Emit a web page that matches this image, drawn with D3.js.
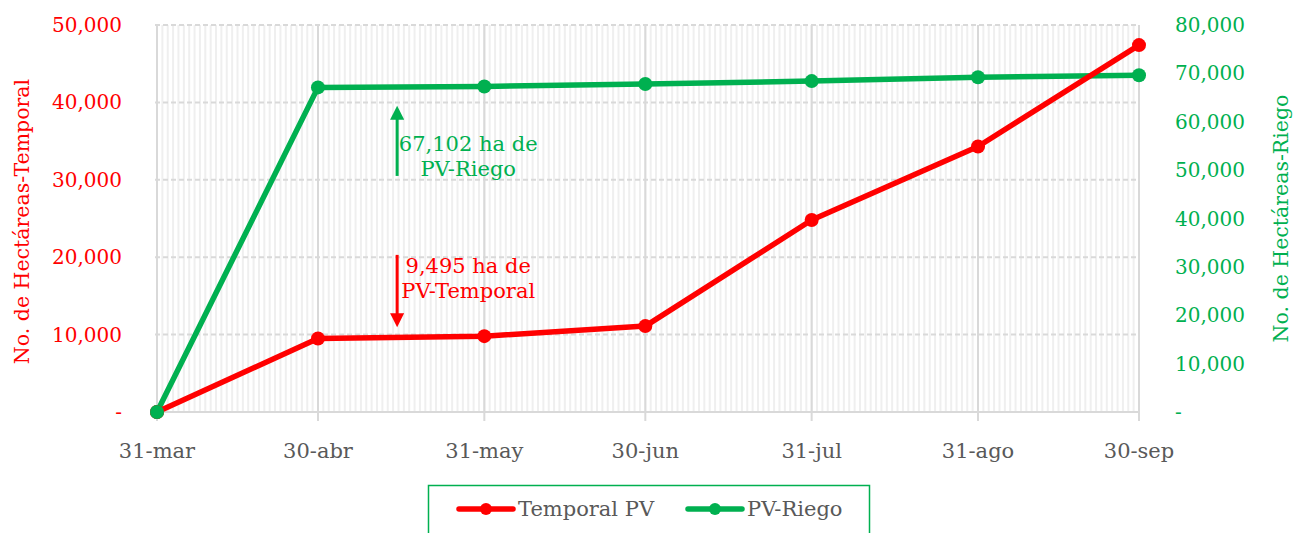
<!DOCTYPE html>
<html><head><meta charset="utf-8">
<script src="https://cdn.jsdelivr.net/npm/d3@7"></script>
<style>body{margin:0;background:#fff}svg{display:block}text{font-family:"DejaVu Serif",serif}</style>
</head><body><svg id="c" width="1293" height="533"></svg>
<script>
const dates = ["2023-03-31","2023-04-30","2023-05-31","2023-06-30","2023-07-31","2023-08-31","2023-09-30"];
const dateLabels = ["31-mar","30-abr","31-may","30-jun","31-jul","31-ago","30-sep"];
const temporalPV = [0, 9495, 9800, 11100, 24800, 34300, 47400];
const pvRiego = [0, 67102, 67300, 67800, 68400, 69200, 69600];
const leftTicks = [0, 10000, 20000, 30000, 40000, 50000];
const rightTicks = [0, 10000, 20000, 30000, 40000, 50000, 60000, 70000, 80000];
const RED = "#FF0000", GREEN = "#00B050", GRAY = "#595959";

const parse = d3.utcParse("%Y-%m-%d");
const dd = dates.map(parse);
const svg = d3.select("#c");
const L = 157, R = 1139, T = 25, B = 412;
const x = d3.scaleUtc().domain([dd[0], dd[dd.length-1]]).range([L, R]);
const yL = d3.scaleLinear().domain([0, 50000]).range([B, T]);
const yR = d3.scaleLinear().domain([0, 80000]).range([B, T]);
const fmt = v => v === 0 ? "-" : d3.format(",")(v);

// minor daily gridlines
const days = d3.utcDay.range(dd[0], d3.utcDay.offset(dd[dd.length-1], 1));
svg.append("g").selectAll("line").data(days).join("line")
  .attr("x1", d => x(d)).attr("x2", d => x(d)).attr("y1", T).attr("y2", B)
  .attr("stroke", "#efefef").attr("stroke-width", 2);
// horizontal dashed gridlines
svg.append("g").selectAll("line").data(leftTicks).join("line")
  .attr("x1", L - 2).attr("x2", R).attr("y1", d => yL(d)).attr("y2", d => yL(d))
  .attr("stroke", "#d9d9d9").attr("stroke-width", 2).attr("stroke-dasharray", d => d === 0 ? null : "5,3");
// major vertical gridlines
svg.append("g").selectAll("line").data(dd).join("line")
  .attr("x1", d => x(d)).attr("x2", d => x(d)).attr("y1", T).attr("y2", B + 9)
  .attr("stroke", "#d9d9d9").attr("stroke-width", 2);

// x labels
svg.append("g").selectAll("text").data(dd).join("text")
  .attr("x", d => x(d)).attr("y", 458).attr("text-anchor", "middle")
  .attr("fill", GRAY).attr("font-size", 21).text((d, i) => dateLabels[i]);
// left labels
svg.append("g").selectAll("text").data(leftTicks).join("text")
  .attr("x", 122).attr("y", d => yL(d) + 7).attr("text-anchor", "end")
  .attr("fill", RED).attr("font-size", 20).text(fmt);
// right labels
svg.append("g").selectAll("text").data(rightTicks).join("text")
  .attr("x", 1175).attr("y", d => yR(d) + 7).attr("text-anchor", "start")
  .attr("fill", GREEN).attr("font-size", 20).text(fmt);
// axis titles
svg.append("text").attr("transform", `translate(29,${(T+B)/2 + 3}) rotate(-90)`).attr("text-anchor", "middle")
  .attr("fill", RED).attr("font-size", 20.5).text("No. de Hectáreas-Temporal");
svg.append("text").attr("transform", `translate(1288,${(T+B)/2}) rotate(-90)`).attr("text-anchor", "middle")
  .attr("fill", GREEN).attr("font-size", 20.5).text("No. de Hectáreas-Riego");

// series
const series = [
  {vals: pvRiego, y: yR, color: GREEN},
  {vals: temporalPV, y: yL, color: RED}
];
series.forEach(s => {
  const line = d3.line().x((d, i) => x(dd[i])).y(d => s.y(d));
  svg.append("path").datum(s.vals).attr("d", line).attr("fill", "none")
    .attr("stroke", s.color).attr("stroke-width", 5.5).attr("stroke-linejoin", "round");
  svg.append("g").selectAll("circle").data(s.vals).join("circle")
    .attr("cx", (d, i) => x(dd[i])).attr("cy", d => s.y(d)).attr("r", 7).attr("fill", s.color);
});
svg.append("circle").attr("cx", x(dd[0])).attr("cy", yR(pvRiego[0])).attr("r", 7).attr("fill", GREEN);

// annotations
const annDate = d3.isoParse("2023-05-14T18:00:00Z");
const ax = x(annDate);
const defs = svg.append("defs");
[["ag", GREEN], ["ar", RED]].forEach(([id, c]) => {
  defs.append("marker").attr("id", id).attr("viewBox", "0 0 10 10").attr("refX", 2).attr("refY", 5)
    .attr("markerWidth", 5).attr("markerHeight", 4.7).attr("markerUnits", "strokeWidth").attr("orient", "auto")
    .append("path").attr("d", "M0,0L10,5L0,10z").attr("fill", c);
});
svg.append("line").attr("x1", ax).attr("x2", ax).attr("y1", yR(48800)).attr("y2", yR(61000))
  .attr("stroke", GREEN).attr("stroke-width", 3).attr("marker-end", "url(#ag)");
svg.append("line").attr("x1", ax).attr("x2", ax).attr("y1", yL(20300)).attr("y2", yL(12400))
  .attr("stroke", RED).attr("stroke-width", 3).attr("marker-end", "url(#ar)");
const tx = x(parse("2023-05-28"));
svg.append("text").attr("y", 151).attr("text-anchor", "middle").attr("fill", GREEN).attr("font-size", 21)
  .selectAll("tspan").data(["67,102 ha de", "PV-Riego"]).join("tspan").attr("x", tx).attr("dy", (d, i) => i ? 25 : 0).text(d => d);
svg.append("text").attr("y", 273).attr("text-anchor", "middle").attr("fill", RED).attr("font-size", 21)
  .selectAll("tspan").data(["9,495 ha de", "PV-Temporal"]).join("tspan").attr("x", tx).attr("dy", (d, i) => i ? 25 : 0).text(d => d);

// legend
const lg = svg.append("g");
lg.append("rect").attr("x", 428.5).attr("y", 485.5).attr("width", 441).attr("height", 60)
  .attr("fill", "#fff").attr("stroke", GREEN).attr("stroke-width", 1.5);
[["Temporal PV", RED, 459], ["PV-Riego", GREEN, 688]].forEach(([t, c, lx]) => {
  lg.append("line").attr("x1", lx).attr("x2", lx + 54).attr("y1", 509).attr("y2", 509)
    .attr("stroke", c).attr("stroke-width", 5.5).attr("stroke-linecap", "round");
  lg.append("circle").attr("cx", lx + 27).attr("cy", 509).attr("r", 6).attr("fill", c);
  lg.append("text").attr("x", lx + 59).attr("y", 516).attr("fill", GRAY).attr("font-size", 21).text(t);
});
</script></body></html>
